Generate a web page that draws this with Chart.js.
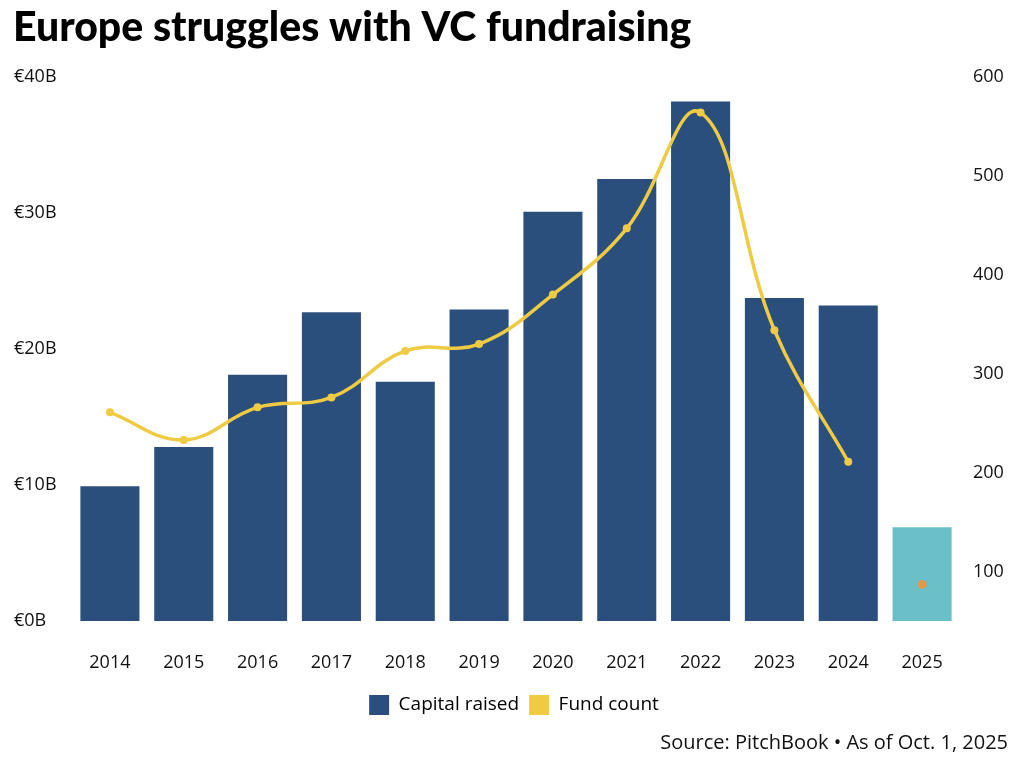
<!DOCTYPE html>
<html><head><meta charset="utf-8">
<script src="https://cdn.jsdelivr.net/npm/chart.js@4"></script>
<style>html,body{margin:0;padding:0;background:#fff;}#wrap{width:1024px;height:765px;position:relative;}</style>
</head><body><div id="wrap"><canvas id="c" width="1024" height="765"></canvas></div>
<script>
const years = ['2014','2015','2016','2017','2018','2019','2020','2021','2022','2023','2024','2025'];
const capitalRaised = [9.9, 12.8, 18.1, 22.7, 17.6, 22.9, 30.1, 32.5, 38.2, 23.75, 23.2, 6.9];
const fundCount = [261, 233, 266, 276, 323, 330, 380, 447, 564, 344, 211, null];
const fundCount2025 = [null, null, null, null, null, null, null, null, null, null, null, 87];
const leftTicks = [0, 10, 20, 30, 40];
const rightTicks = [100, 200, 300, 400, 500, 600];
const titleText = 'Europe struggles with VC fundraising';
const sourceText = 'Source: PitchBook \u2022 As of Oct. 1, 2025';

const FONT = "'Open Sans', 'Noto Sans', sans-serif";
const TFONT = "Lato, sans-serif";
const barColors = years.map((y, i) => i === years.length - 1 ? '#6bbfc9' : '#2b4f7c');

const textPlugin = {
  id: 'texts',
  afterDraw(chart) {
    const ctx = chart.ctx;
    ctx.save();
    ctx.fillStyle = '#000';
    ctx.font = "900 41px " + TFONT;
    ctx.textBaseline = 'alphabetic';
    ctx.textAlign = 'left';
    ctx.fillText(titleText, 13, 41);
    ctx.font = "20px " + FONT;
    ctx.textAlign = 'right';
    ctx.textBaseline = 'middle';
    ctx.fillStyle = '#111';
    ctx.fillText(sourceText, 1008, 743);
    ctx.restore();
  }
};

new Chart(document.getElementById('c'), {
  data: {
    labels: years,
    datasets: [
      { type: 'line', label: 'Fund count', data: fundCount, yAxisID: 'y1',
        borderColor: '#efcb43', backgroundColor: '#efcb43', borderWidth: 3.5,
        pointRadius: 4, pointHoverRadius: 4, pointBackgroundColor: '#efcb43', pointBorderWidth: 0,
        tension: 0.4, spanGaps: false, order: 0 },
      { type: 'line', label: 'Fund count 2025', data: fundCount2025, yAxisID: 'y1',
        borderColor: '#e0994a', backgroundColor: '#e0994a', showLine: false,
        pointRadius: 4.5, pointBorderWidth: 0, order: 0 },
      { type: 'bar', label: 'Capital raised', data: capitalRaised, yAxisID: 'y',
        backgroundColor: barColors, barPercentage: 0.8, categoryPercentage: 1.0, order: 1 }
    ]
  },
  options: {
    responsive: false, animation: false,
    layout: { padding: { left: 14, right: 10, top: 77, bottom: 40 } },
    plugins: {
      tooltip: { enabled: false },
      legend: {
        position: 'bottom',
        labels: {
          font: { family: FONT, size: 19 }, color: '#111',
          boxWidth: 20, boxHeight: 20, padding: 10,
          generateLabels: (chart) => [
            { text: 'Capital raised', fillStyle: '#2b4f7c', strokeStyle: '#2b4f7c', lineWidth: 0, datasetIndex: 2 },
            { text: 'Fund count', fillStyle: '#efcb43', strokeStyle: '#efcb43', lineWidth: 0, datasetIndex: 0 }
          ]
        }
      }
    },
    scales: {
      x: {
        grid: { display: false, drawTicks: false }, border: { display: false },
        ticks: { font: { family: FONT, size: 18 }, color: '#111', padding: 31 },
        afterFit: (s) => { s.height = 64; }
      },
      y: {
        position: 'left', min: 0, max: 40,
        grid: { display: false, drawTicks: false }, border: { display: false },
        afterBuildTicks: (s) => { s.ticks = leftTicks.map(v => ({ value: v })); },
        ticks: { font: { family: FONT, size: 18 }, color: '#111', crossAlign: 'far', padding: 0,
                 callback: (v) => '\u20ac' + v + 'B' },
        afterFit: (s) => { s.width = 59; }
      },
      y1: {
        position: 'right', min: 50, max: 600,
        grid: { display: false, drawTicks: false }, border: { display: false },
        afterBuildTicks: (s) => { s.ticks = rightTicks.map(v => ({ value: v })); },
        ticks: { font: { family: FONT, size: 18 }, color: '#111', padding: 14 },
        afterFit: (s) => { s.width = 55; }
      }
    }
  },
  plugins: [textPlugin]
});
</script></body></html>
